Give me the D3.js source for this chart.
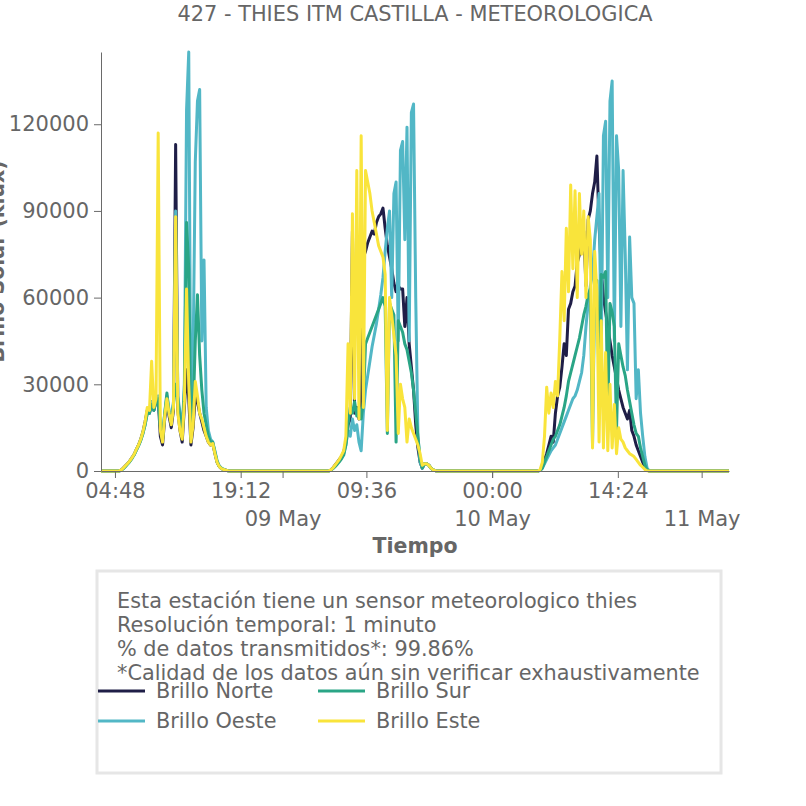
<!DOCTYPE html>
<html>
<head>
<meta charset="utf-8">
<script src="https://cdn.jsdelivr.net/npm/d3@7"></script>
<style>
body { margin: 0; background: #fff; }
svg text { font-family: "DejaVu Sans", sans-serif; fill: #666; }
</style>
</head>
<body>
<div id="chart"></div>
<script>
// sampling of each day (every 15 min), values in klux
var times = ["05:00","05:15","05:30","05:45","06:00","06:15","06:30","06:45","07:00","07:15","07:30","07:45",
	"08:00","08:15","08:30","08:45","09:00","09:15","09:30","09:45","10:00","10:15","10:30","10:45",
	"11:00","11:15","11:30","11:45","12:00","12:15","12:30","12:45","13:00","13:15","13:30","13:45",
	"14:00","14:15","14:30","14:45","15:00","15:15","15:30","15:45","16:00","16:15","16:30","16:45",
	"17:00","17:15","17:30","17:45","18:00"];
var days = ["2023-05-08", "2023-05-09", "2023-05-10"];
var rangeEnds = ["2023-05-08 03:12", "2023-05-11 03:08"];

// Brillo Norte
var norte1 = [0,0,0.3,1,1.8,2.6,3.5,4.6,5.8,7.5, 9,11,13.5,17,21,20,24,21,24,25, 12,9,18,24,19,15,21,113,21,14,
	10,22,35,25,9,15,26,24,20,17, 14,12,10,9,9.5,6,3,1.5,0.8,0.5, 0.3,0.1,0];
var norte2 = [0,0,0.3,1,2,3,4,5,6.5,10, 16,18,83,20,22,18,24,74,76,79, 81,83,82,86,88,89,91,84,78,74,
	70,65,62,64,63,63,50,60,44,36, 28,16,8,3,1,2.5,2.5,2,1,0.4, 0.1,0,0];
var norte3 = [0,0,0.3,1.5,4,6,9,12,10,20, 26,29,36,44,40,56,58,62,64,72, 75,78,83,64,87,90,96,100,109,85,
	70,60,55,50,45,40,36,32,28,25, 22,20,18,21,14,12,9,7,5,3, 1.5,0.5,0];
// Brillo Oeste
var oeste1 = [0,0,0.2,0.8,1.6,2.4,3.3,4.4,5.6,7.2, 8.8,10.6,13,16,20,20,24,21,25,26, 16,12,20,26,21,18,24,90,26,20,
	14,30,125,145,12,40,107,128,132,45, 73,22,14,11,10,7,3.5,1.8,1,0.6, 0.3,0.1,0];
var oeste2 = [0,0,0.2,0.8,1.6,2.5,3.5,4.5,6,9, 14,12,18,14,16,10,7,20,28,33, 38,43,47,51,56,61,67,76,84,90,
	60,96,100,45,111,114,80,119,45,124, 127,60,12,3,1,2.5,2.5,2,1,0.4, 0.1,0,0];
var oeste3 = [0,0,0.2,1,2.5,4,5.5,7,8,9, 11,13,15,17,19,21,23,25,26,28, 31,34,40,50,58,64,68,80,88,96,
	40,116,121,60,128,135,45,116,104,50, 104,75,35,81,60,58,25,35,20,12, 5,1,0];
// Brillo Sur
var sur1 = [0,0,0.2,0.8,1.6,2.4,3.3,4.4,5.6,7.2, 8.8,10.6,13,16,20,20,23,21,24,25, 15,11,20,27,20,17,23,30,25,18,
	13,28,86,70,11,20,45,61,40,28, 20,16,12,10,10,6.5,3.2,1.6,0.9,0.5, 0.3,0.1,0];
var sur2 = [0,0,0.2,0.8,1.5,2.3,3.2,4.2,5.5,9, 16,22,20,24,19,22,18,24,44,46, 48,50,52,54,56,58,60,57,13,58,
	56,54,10,52,50,48,44,42,38,34, 28,20,12,4,1,2.5,2.5,2,1,0.4, 0.1,0,0];
var sur3 = [0,0,0.2,1,3,5,7,9,11,12, 14,16,19,22,26,31,34,37,40,43, 46,50,54,57,61,63,9,64,66,30,
	68,67,69,20,58,55,50,14,44,40, 36,33,28,24,20,16,13,12,8,5, 2,0.5,0];
// Brillo Este
var este1 = [0,0,0.3,1,1.8,2.6,3.5,4.6,5.8,7.5, 9,11,13.5,17,22,21,38,22,25,117, 14,10,19,25,20,16,22,88,20,14,
	11,24,63,30,10,16,31,26,20,18, 15,12,10,9,9.5,6,3,1.5,0.8,0.5, 0.3,0.1,0];
var este2 = [0,0,0.3,1,2,3,4,5.5,7,12, 44,20,89,25,104,18,116,22,104,100, 96,90,86,82,78,76,74,68,14,60,
	54,47,40,13,30,25,22,10,18,15, 13,11,9,6,2,2.5,2.5,2,1,0.4, 0.1,0,0];
var este3 = [0,0,0.5,3,12,29,20,27,22,31, 26,46,69,52,84,62,99,70,97,60, 96,75,90,60,88,80,8,76,62,10,
	52,8,41,7,30,8,23,6,15,11, 10,8,7,6,5.5,5,4,3,2,1.3, 0.5,0.1,0];

var yTicks = [0, 30000, 60000, 90000, 120000];
var hourTicks = ["2023-05-08 04:48", "2023-05-08 19:12", "2023-05-09 09:36", "2023-05-10 00:00", "2023-05-10 14:24"];
var dayTicks = ["2023-05-09 00:00", "2023-05-10 00:00", "2023-05-11 00:00"];
var infoLines = [
	"Esta estación tiene un sensor meteorologico thies",
	"Resolución temporal: 1 minuto",
	"% de datos transmitidos*: 99.86%",
	"*Calidad de los datos aún sin verificar exhaustivamente"
];

// draw order as in the legend (column-wise): Norte, Oeste, Sur, Este
var series = [
	{name: "Brillo Norte", color: "#1f1e47", days: [norte1, norte2, norte3]},
	{name: "Brillo Oeste", color: "#52b7c6", days: [oeste1, oeste2, oeste3]},
	{name: "Brillo Sur", color: "#2aa586", days: [sur1, sur2, sur3]},
	{name: "Brillo Este", color: "#f9e43b", days: [este1, este2, este3]}
];

var parse = d3.timeParse("%Y-%m-%d %H:%M");
var W = 806, H = 806;
var pLeft = 101, pRight = 729, pTop = 52, pBottom = 471;

var svg = d3.select("#chart").append("svg")
	.attr("width", W).attr("height", H);

var x = d3.scaleTime()
	.domain(rangeEnds.map(parse))
	.range([pLeft, pRight]);
var y = d3.scaleLinear()
	.domain([0, 145000])
	.range([pBottom, pTop]);

function buildPoints(s){
	var pts = [[parse(rangeEnds[0]), 0]];
	s.days.forEach(function(vals, d){
		times.forEach(function(t, i){
			pts.push([parse(days[d] + " " + t), vals[i] * 1000]);
		});
	});
	pts.push([parse(rangeEnds[1]), 0]);
	return pts;
}

var line = d3.line()
	.x(function(d){ return x(d[0]); })
	.y(function(d){ return y(d[1]); });

svg.append("clipPath").attr("id", "plotclip")
	.append("rect").attr("x", pLeft).attr("y", pTop - 2)
	.attr("width", pRight - pLeft).attr("height", pBottom - pTop + 4);

svg.append("g").attr("clip-path", "url(#plotclip)")
	.selectAll("path")
	.data(series)
	.enter()
	.append("path")
	.attr("fill", "none")
	.attr("stroke", function(d){ return d.color; })
	.attr("stroke-width", 3)
	.attr("stroke-linejoin", "round")
	.attr("d", function(d){ return line(buildPoints(d)); });

// axes
var gy = svg.append("g")
	.attr("transform", "translate(" + pLeft + ",0)")
	.call(d3.axisLeft(y).tickValues(yTicks).tickSize(7).tickPadding(5).tickSizeOuter(0).tickFormat(d3.format("d")));
var gx = svg.append("g")
	.attr("transform", "translate(0," + pBottom + ")")
	.call(d3.axisBottom(x).tickValues(hourTicks.map(parse)).tickSize(7).tickPadding(5)
		.tickSizeOuter(0).tickFormat(d3.timeFormat("%H:%M")));
var gd = svg.append("g")
	.attr("transform", "translate(0," + pBottom + ")")
	.call(d3.axisBottom(x).tickValues(dayTicks.map(parse)).tickSize(7).tickPadding(33)
		.tickSizeOuter(0).tickFormat(d3.timeFormat("%d %b")));
gd.select(".domain").remove();

[gy, gx, gd].forEach(function(g){
	g.selectAll(".domain").attr("stroke", "#6a6a6a");
	g.selectAll(".tick line").attr("stroke", "#6a6a6a");
	g.selectAll(".tick text").attr("font-size", 21).attr("fill", "#666");
});

// titles
svg.append("text")
	.attr("x", (pLeft + pRight) / 2).attr("y", 21)
	.attr("text-anchor", "middle")
	.attr("font-size", 20.9)
	.text("427 - THIES ITM CASTILLA - METEOROLOGICA");
svg.append("text")
	.attr("x", (pLeft + pRight) / 2).attr("y", 553)
	.attr("text-anchor", "middle")
	.attr("font-size", 20.5).attr("font-weight", "bold")
	.text("Tiempo");
// y label sits mostly outside the page, as in the source chart
svg.append("text")
	.attr("transform", "translate(4," + (pTop + pBottom) / 2 + ") rotate(-90)")
	.attr("text-anchor", "middle")
	.attr("font-size", 20.5).attr("font-weight", "bold")
	.text("Brillo Solar (klux)");

// info box with legend
svg.append("rect")
	.attr("x", 97).attr("y", 571).attr("width", 624).attr("height", 202)
	.attr("fill", "#fff").attr("stroke", "#e6e6e6").attr("stroke-width", 3);
svg.selectAll("text.info")
	.data(infoLines)
	.enter()
	.append("text")
	.attr("class", "info")
	.attr("x", 117)
	.attr("y", function(d, i){ return 608 + i * 24; })
	.attr("font-size", 20.8)
	.text(function(d){ return d; });

var leg = svg.selectAll("g.leg")
	.data(series)
	.enter()
	.append("g")
	.attr("class", "leg")
	.attr("transform", function(d, i){
		var col = Math.floor(i / 2), row = i % 2;
		return "translate(" + (98 + col * 220) + "," + (691 + row * 30) + ")";
	});
leg.append("line")
	.attr("x1", 0).attr("x2", 47).attr("y1", 0).attr("y2", 0)
	.attr("stroke", function(d){ return d.color; })
	.attr("stroke-width", 3);
leg.append("text")
	.attr("x", 58).attr("y", 7)
	.attr("font-size", 20.8)
	.text(function(d){ return d.name; });
</script>
</body>
</html>
